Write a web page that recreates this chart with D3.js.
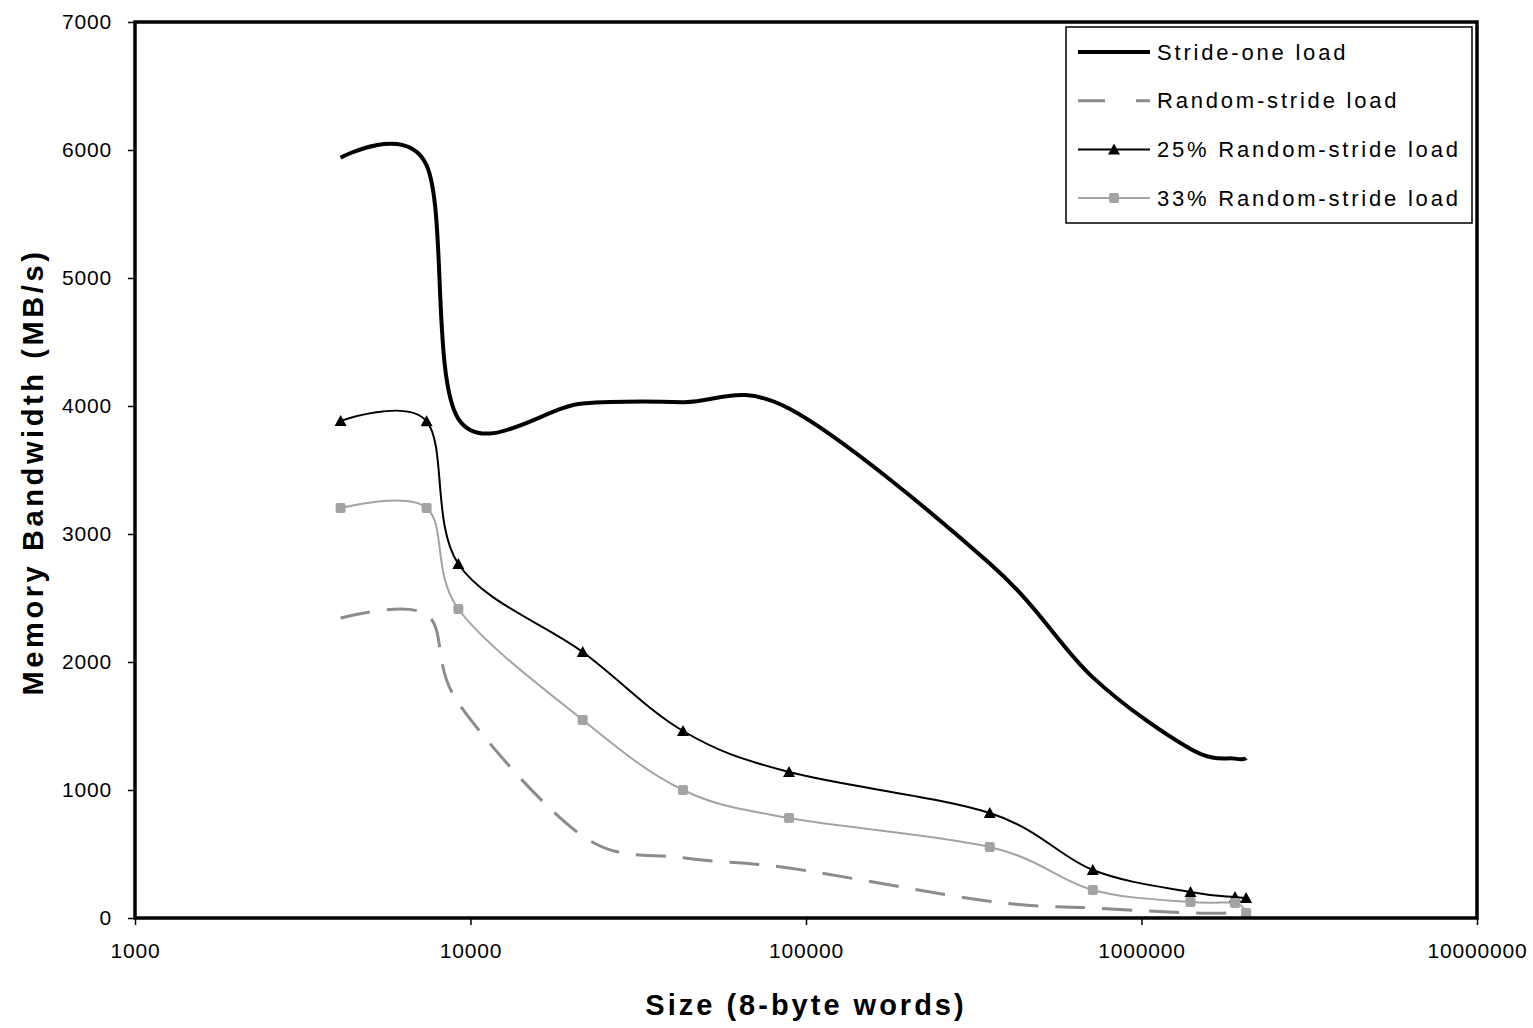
<!DOCTYPE html>
<html>
<head>
<meta charset="utf-8">
<script src="https://cdn.jsdelivr.net/npm/d3@7"></script>
<style>
  body { margin: 0; background: #fff; }
  svg { display: block; }
  text { font-family: "Liberation Sans", Arial, sans-serif; }
</style>
</head>
<body>
<svg id="chart"></svg>
<script>
// sizes in 8-byte words
var sizes = [4100, 7400, 9200, 21600, 43000, 89000, 353000, 716000, 1400000, 1900000, 2050000];

// bandwidth in MB/s
var strideOne     = [5940, 5880, 3900, 4020, 4030, 3980, 2770, 1880, 1320, 1245, 1250];
var randomStride  = [2344, 2370, 1680, 640, 470, 390, 130, 78, 40, 38, 25];
var random25      = [3883, 3880, 2766, 2078, 1461, 1140, 820, 375, 203, 164, 156];
var random33      = [3203, 3203, 2414, 1547, 1000, 781, 555, 219, 125, 117, 39];

var seriesNames = ["Stride-one load", "Random-stride load", "25% Random-stride load", "33% Random-stride load"];
var xTicks = [1000, 10000, 100000, 1000000, 10000000];
var yTicks = [0, 1000, 2000, 3000, 4000, 5000, 6000, 7000];

var W = 1533, H = 1028;
var margin = {top: 22, right: 56, bottom: 110, left: 135},
    width = W - margin.left - margin.right,
    height = H - margin.top - margin.bottom;

var svg = d3.select("svg#chart")
    .attr("width", W)
    .attr("height", H);

var g = svg.append("g")
    .attr("transform", "translate(" + margin.left + "," + margin.top + ")");

var x = d3.scaleLog().domain([1000, 10000000]).range([0, width]);
var y = d3.scaleLinear().domain([0, 7000]).range([height, 0]);

// series styles
var series = [
  {name: seriesNames[0], values: strideOne,    color: "#000",    width: 4,   dash: null,    marker: null},
  {name: seriesNames[1], values: randomStride, color: "#8c8c8c", width: 3,   dash: "30,17", marker: null},
  {name: seriesNames[2], values: random25,     color: "#000",    width: 2,   dash: null,    marker: "triangle"},
  {name: seriesNames[3], values: random33,     color: "#a3a3a3", width: 2,   dash: null,    marker: "square"}
];

var line = d3.line()
    .x(function(d){ return x(d.s); })
    .y(function(d){ return y(d.v); })
    .curve(d3.curveCardinal.tension(0));

// x axis ticks + labels
var xAxis = g.append("g")
    .attr("transform", "translate(0," + height + ")")
    .call(d3.axisBottom(x).tickValues(xTicks).tickFormat(d3.format("d")).tickSize(7).tickPadding(18));
xAxis.select(".domain").remove();
xAxis.selectAll("line").attr("stroke", "#000").attr("stroke-width", 1.5);
xAxis.selectAll("text")
    .attr("fill", "#000")
    .style("font-size", "21px")
    .style("font-family", "'Liberation Sans', Arial, sans-serif")
    .style("letter-spacing", "0.8px");

// y axis ticks + labels
var yAxis = g.append("g")
    .call(d3.axisLeft(y).tickValues(yTicks).tickFormat(d3.format("d")).tickSize(7).tickPadding(16));
yAxis.select(".domain").remove();
yAxis.selectAll("line").attr("stroke", "#000").attr("stroke-width", 1.5);
yAxis.selectAll("text")
    .attr("fill", "#000")
    .style("font-size", "21px")
    .style("font-family", "'Liberation Sans', Arial, sans-serif")
    .style("letter-spacing", "0.8px");

// lines
series.forEach(function(s){
  var pts = sizes.map(function(sz, i){ return {s: sz, v: s.values[i]}; });
  g.append("path")
    .datum(pts)
    .attr("fill", "none")
    .attr("stroke", s.color)
    .attr("stroke-width", s.width)
    .attr("stroke-dasharray", s.dash)
    .attr("d", line);
});

function drawMarker(sel, type, color){
  if (type === "triangle"){
    sel.append("path").attr("d", "M0,-6L6,5L-6,5Z").attr("fill", color);
  } else if (type === "square"){
    sel.append("rect").attr("x", -5).attr("y", -5).attr("width", 10).attr("height", 10)
      .attr("rx", 2).attr("fill", color);
  }
}

// markers
series.forEach(function(s){
  if (!s.marker) return;
  sizes.forEach(function(sz, i){
    var m = g.append("g").attr("transform", "translate(" + x(sz) + "," + y(s.values[i]) + ")");
    drawMarker(m, s.marker, s.color);
  });
});

// plot frame
g.append("rect")
    .attr("x", 0).attr("y", 0)
    .attr("width", width).attr("height", height)
    .attr("fill", "none")
    .attr("stroke", "#000")
    .attr("stroke-width", 3.5);

// legend
var lg = g.append("g").attr("transform", "translate(" + (1066 - margin.left) + "," + (27 - margin.top) + ")");
lg.append("rect")
    .attr("width", 406).attr("height", 196)
    .attr("fill", "#fff")
    .attr("stroke", "#000")
    .attr("stroke-width", 1.5);

series.forEach(function(s, i){
  var ry = 25 + i * 48.7;
  lg.append("line")
    .attr("x1", 12).attr("x2", 84)
    .attr("y1", ry).attr("y2", ry)
    .attr("stroke", s.color)
    .attr("stroke-width", s.width)
    .attr("stroke-dasharray", s.dash ? "27,31" : null);
  if (s.marker){
    var m = lg.append("g").attr("transform", "translate(48," + ry + ")");
    drawMarker(m, s.marker, s.color);
  }
  lg.append("text")
    .attr("x", 91).attr("y", ry)
    .attr("dy", "0.35em")
    .style("font-size", "22px")
    .style("letter-spacing", "2.8px")
    .text(s.name);
});

// axis titles
svg.append("text")
    .attr("x", margin.left + width / 2)
    .attr("y", 1005)
    .attr("dy", "0.35em")
    .attr("text-anchor", "middle")
    .style("font-size", "29px")
    .style("font-weight", "bold")
    .style("letter-spacing", "3px")
    .text("Size (8-byte words)");

svg.append("text")
    .attr("transform", "translate(33," + (margin.top + height / 2 + 2) + ") rotate(-90)")
    .attr("dy", "0.35em")
    .attr("text-anchor", "middle")
    .style("font-size", "29px")
    .style("font-weight", "bold")
    .style("letter-spacing", "3.6px")
    .text("Memory Bandwidth (MB/s)");
</script>
</body>
</html>
